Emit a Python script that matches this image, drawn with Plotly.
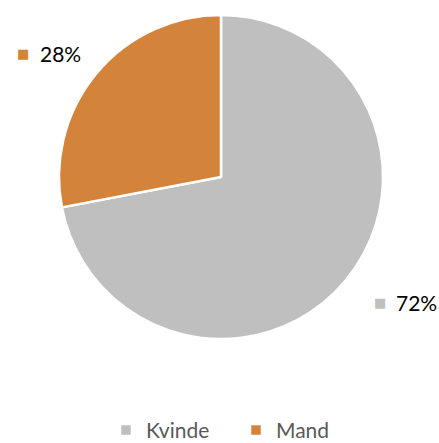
import plotly.graph_objects as go

categories = ["Kvinde", "Mand"]
values = [72, 28]
colors = ["#BFBFBF", "#D4843A"]

W, H = 439, 443
FONT = "Lato, Open Sans, sans-serif"
fig = go.Figure()
fig.add_trace(go.Pie(
    labels=categories, values=values, sort=False, direction="clockwise",
    rotation=0, marker=dict(colors=colors, line=dict(color="white", width=2.5)),
    textinfo="none", hoverinfo="label+percent",
    domain=dict(x=[(221 - 162) / W, (221 + 162) / W], y=[(266 - 162) / H, (266 + 162) / H]),
))

total = sum(values)
# (marker x, text x, center y) in pixels for each outside data label
label_pos = {"Kvinde": (372, 394, 302), "Mand": (15, 38, 53)}
for cat, v, c in zip(categories, values, colors):
    mx, tx, cy = label_pos[cat]
    fig.add_annotation(
        x=mx / W, y=1 - cy / H, xref="paper", yref="paper", xanchor="left", yanchor="middle",
        text="■", showarrow=False, font=dict(family="DejaVu Sans", size=13, color=c),
    )
    fig.add_annotation(
        x=tx / W, y=1 - cy / H, xref="paper", yref="paper", xanchor="left", yanchor="middle",
        text=f"{round(100 * v / total)}%",
        showarrow=False, font=dict(family=FONT, size=21, color="#000000"),
    )

fig.update_layout(
    width=W, height=H, margin=dict(l=0, r=0, t=0, b=0, autoexpand=False),
    paper_bgcolor="white", plot_bgcolor="white",
    showlegend=True,
    legend=dict(orientation="h", x=106 / W, xanchor="left", y=-0.018, yanchor="bottom",
                font=dict(family=FONT, size=21, color="#595959"),
                entrywidth=85, traceorder="normal"),
)
fig.write_html(
    "out.html",
    config={"displayModeBar": False},
    post_script="document.body.style.margin='0';document.body.style.overflow='hidden';",
)
